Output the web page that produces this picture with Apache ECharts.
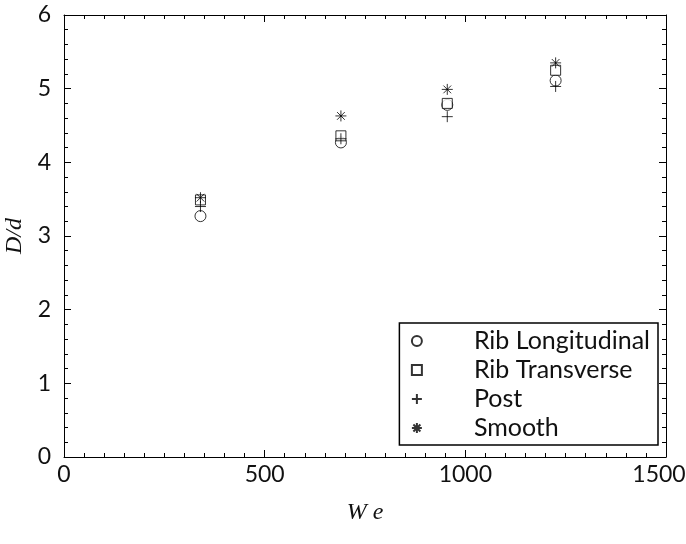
<!DOCTYPE html>
<html>
<head>
<meta charset="utf-8">
<script src="https://cdn.jsdelivr.net/npm/echarts@6/dist/echarts.min.js"></script>
<style>
  html, body { margin: 0; padding: 0; background: #fff; }
  #main { width: 686px; height: 544px; }
</style>
</head>
<body>
<div id="main"></div>
<script>
(function (echarts) {

  'use strict';

  // Weber numbers of the four drop impact cases
  var weber = [340, 690, 955, 1225];

  // D/d for each surface
  var ribLongitudinal = [3.27, 4.27, 4.78, 5.11];
  var ribTransverse = [3.49, 4.36, 4.80, 5.25];
  var post = [3.40, 4.32, 4.62, 5.03];
  var smooth = [3.52, 4.63, 4.99, 5.35];

  var seriesNames = ['Rib Longitudinal', 'Rib Transverse', 'Post', 'Smooth'];

  var PLUS = 'path://M0,5L10,5M5,0L5,10';
  var STAR = 'path://M0,5L10,5M5,0L5,10M1.5,1.5L8.5,8.5M1.5,8.5L8.5,1.5';

  function pairs(ys) {
    return weber.map(function (w, i) { return [w, ys[i]]; });
  }

  function scatter(name, ys, symbol, size, fill) {
    return {
      name: name,
      type: 'scatter',
      symbol: symbol,
      symbolSize: size,
      itemStyle: {color: fill, borderColor: '#000', borderWidth: 1},
      data: pairs(ys)
    };
  }

  var font = 'Lato';
  var nameStyle = {fontFamily: 'Liberation Serif', fontStyle: 'italic', fontSize: 24, color: '#111'};

  function axis(opts) {
    return {
      type: 'value',
      position: opts.position,
      min: opts.min,
      max: opts.max,
      interval: opts.interval,
      name: opts.name,
      nameLocation: 'middle',
      nameGap: opts.nameGap,
      nameTextStyle: nameStyle,
      axisLine: {show: true, onZero: false, lineStyle: {color: '#000', width: 1}},
      axisTick: {show: true, inside: true, length: 7, lineStyle: {color: '#000'}},
      minorTick: {show: true, splitNumber: opts.minor, length: 4, lineStyle: {color: '#000'}},
      splitLine: {show: false},
      axisLabel: {
        show: !!opts.labels,
        color: '#111',
        fontFamily: font,
        fontSize: 23,
        margin: opts.margin,
        // the last x label sits at the page edge; nudge it inwards a little
        formatter: function (v) { return v === opts.max && opts.nudge ? '{m|' + v + '}' : String(v); },
        rich: {m: {fontFamily: font, fontSize: 23, color: '#111', padding: [0, 14, 0, 0]}}
      }
    };
  }

  echarts.init(document.getElementById('main')).setOption({
    backgroundColor: '#fff',
    animation: false,
    grid: {left: 64, right: 20, top: 15, bottom: 87, outerBoundsMode: 'none'},
    legend: {
      orient: 'vertical',
      right: 28,
      bottom: 99,
      data: seriesNames,
      backgroundColor: '#fff',
      borderColor: '#000',
      borderWidth: 1.5,
      borderRadius: 0,
      padding: [5, 8, 4, 10],
      itemGap: 3,
      itemWidth: 10,
      itemHeight: 10,
      textStyle: {fontFamily: font, fontSize: 25, lineHeight: 26, color: '#111', padding: [0, 0, 0, 47]}
    },
    xAxis: [
      axis({min: 0, max: 1500, interval: 500, minor: 10, name: 'W e', nameGap: 44, labels: true, margin: 6, nudge: true}),
      axis({position: 'top', min: 0, max: 1500, interval: 500, minor: 10})
    ],
    yAxis: [
      axis({min: 0, max: 6, interval: 1, minor: 5, name: 'D/d', nameGap: 36, labels: true, margin: 13}),
      axis({position: 'right', min: 0, max: 6, interval: 1, minor: 5})
    ],
    series: [
      scatter(seriesNames[0], ribLongitudinal, 'circle', 11, '#fff'),
      scatter(seriesNames[1], ribTransverse, 'rect', 10, '#fff'),
      scatter(seriesNames[2], post, PLUS, 11, 'none'),
      scatter(seriesNames[3], smooth, STAR, 11, 'none')
    ]
  });
})(window.echarts);
</script>
</body>
</html>
